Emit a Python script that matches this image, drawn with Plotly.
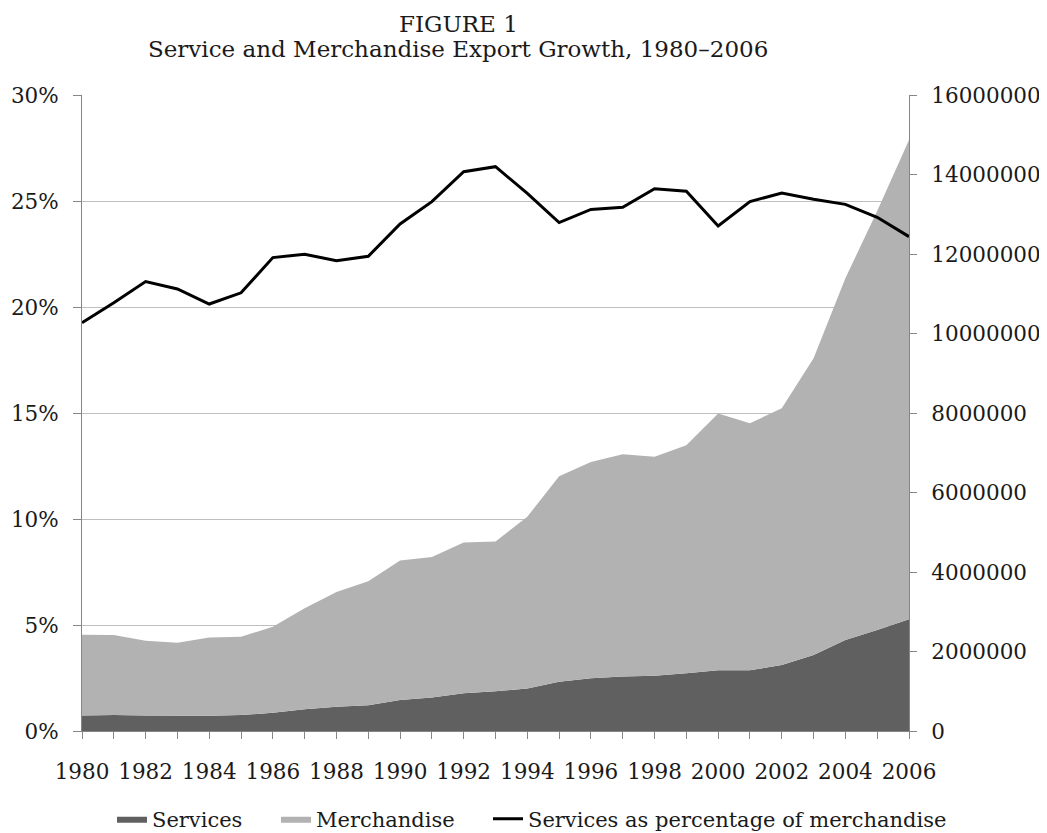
import plotly.graph_objects as go

years = [1980, 1981, 1982, 1983, 1984, 1985, 1986, 1987, 1988, 1989, 1990,
         1991, 1992, 1993, 1994, 1995, 1996, 1997, 1998, 1999, 2000, 2001,
         2002, 2003, 2004, 2005, 2006]

services = [390000, 400000, 390000, 385000, 385000, 400000, 460000, 545000,
            610000, 650000, 780000, 840000, 950000, 1000000, 1070000, 1240000,
            1330000, 1370000, 1390000, 1450000, 1530000, 1530000, 1660000,
            1910000, 2290000, 2540000, 2810000]

merchandise = [2030000, 2015000, 1880000, 1835000, 1965000, 1970000, 2160000,
               2545000, 2890000, 3120000, 3510000, 3540000, 3790000, 3770000,
               4320000, 5170000, 5440000, 5590000, 5510000, 5740000, 6460000,
               6210000, 6460000, 7470000, 9100000, 10540000, 12060000]

services_pct = [19.26, 20.2, 21.2, 20.85, 20.14, 20.67, 22.33, 22.49, 22.18,
                22.39, 23.92, 24.97, 26.38, 26.62, 25.36, 23.98, 24.6, 24.7,
                25.58, 25.46, 23.82, 24.97, 25.38, 25.08, 24.84, 24.23, 23.32]

FONT = "DejaVu Serif"
AX = "#868686"
GRID = "#bfbfbf"
TXT = "#1a1a1a"
FS = 21.5
LFS = 21

# the page body adds an 8px offset; figure is sized to fill the rest
OFF = 8
W, H = 1047 - OFF, 833 - OFF

fig = go.Figure()
fig.add_trace(go.Scatter(x=years, y=services, name="Services", mode="lines",
                         stackgroup="exp", line=dict(width=0, color="#606060"),
                         fillcolor="#606060", yaxis="y", hoverinfo="skip",
                         legend="legend"))
fig.add_trace(go.Scatter(x=years, y=merchandise, name="Merchandise", mode="lines",
                         stackgroup="exp", line=dict(width=0, color="#b2b2b2"),
                         fillcolor="#b2b2b2", yaxis="y", hoverinfo="skip",
                         legend="legend2"))
fig.add_trace(go.Scatter(x=years, y=services_pct,
                         name="Services as percentage of merchandise",
                         mode="lines", line=dict(color="black", width=3),
                         yaxis="y2", hoverinfo="skip", legend="legend3"))


def leg(px):
    return dict(orientation="h", xref="container", yref="container",
                x=(px - OFF) / W, xanchor="left",
                y=1 - (819 - OFF) / H, yanchor="middle",
                font=dict(size=LFS, family=FONT, color=TXT), itemwidth=30,
                bgcolor="rgba(0,0,0,0)", borderwidth=0)


fig.update_layout(
    template="none",
    width=W, height=H,
    margin=dict(l=82 - OFF, r=1047 - 909, t=95 - OFF, b=833 - 731,
                autoexpand=False),
    paper_bgcolor="white", plot_bgcolor="white",
    font=dict(family=FONT, size=FS, color=TXT),
    showlegend=True,
    legend=leg(112),
    legend2=leg(276),
    legend3=leg(488),
    xaxis=dict(range=[1980, 2006], tick0=1980, dtick=2, ticks="outside",
               ticklen=7, tickcolor=AX, showline=True, linecolor=AX,
               linewidth=1, showgrid=False, zeroline=False, automargin=False,
               ticklabelstandoff=14,
               minor=dict(dtick=1, tick0=1980, ticks="outside", ticklen=7,
                          tickcolor=AX, showgrid=False),
               tickfont=dict(size=FS)),
    yaxis=dict(range=[0, 16000000], dtick=2000000, tick0=0, tickformat="d",
               side="right", ticks="outside", ticklen=7, automargin=False,
               tickcolor=AX, showline=True, linecolor=AX, showgrid=False,
               zeroline=False, ticklabelstandoff=10, tickfont=dict(size=FS)),
    yaxis2=dict(range=[0, 30], dtick=5, tick0=0, ticksuffix="%", side="left",
                overlaying="y", ticks="outside", ticklen=8, tickcolor=AX,
                showline=True, linecolor=AX, showgrid=True, gridcolor=GRID,
                gridwidth=1.3, zeroline=False, automargin=False,
                ticklabelstandoff=10, tickfont=dict(size=FS)),
    annotations=[
        dict(text="FIGURE 1", xref="paper", yref="paper",
             x=(458 - 82) / 827, y=(731 - 24) / 636, xanchor="center",
             yanchor="middle", showarrow=False,
             font=dict(size=23, family=FONT, color=TXT)),
        dict(text="Service and Merchandise Export Growth, 1980\u20132006",
             xref="paper", yref="paper", x=(458 - 82) / 827,
             y=(731 - 49) / 636, xanchor="center", yanchor="middle",
             showarrow=False, font=dict(size=23, family=FONT, color=TXT)),
    ],
)

fig.write_html("out.html")
